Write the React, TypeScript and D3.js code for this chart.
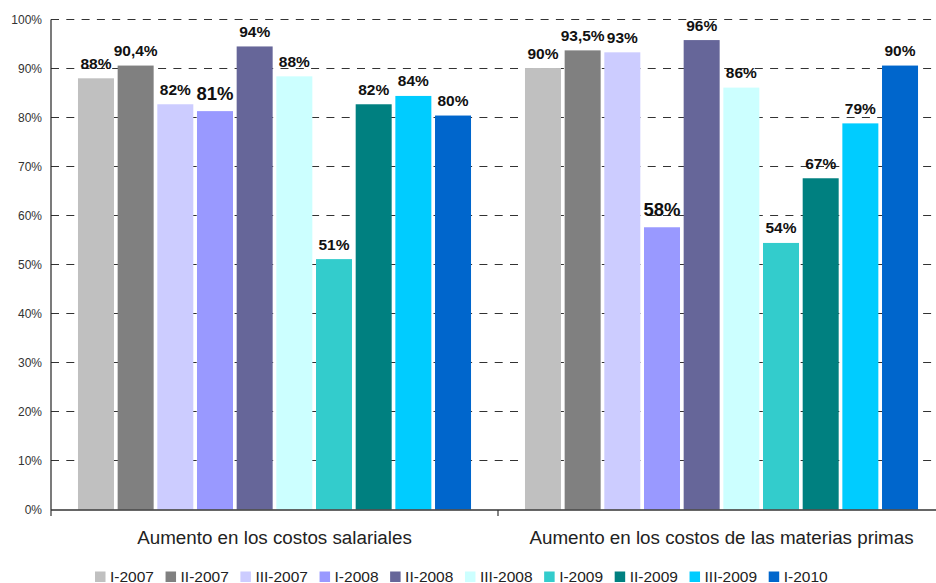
import React from "react";
import * as d3 from "d3";

const categories = ["Aumento en los costos salariales", "Aumento en los costos de las materias primas"];
const seriesNames = ["I-2007", "II-2007", "III-2007", "I-2008", "II-2008", "III-2008", "I-2009", "II-2009", "III-2009", "I-2010"];
const seriesColors = ["#C0C0C0", "#808080", "#CCCCFF", "#9999FF", "#666699", "#CCFFFF", "#33CCCC", "#008080", "#00CCFF", "#0066CC"];
// values per series: [salariales, materias primas]
const salariales = [88.0, 90.6, 82.7, 81.3, 94.5, 88.4, 51.1, 82.7, 84.4, 80.4];
const materias = [90.1, 93.7, 93.3, 57.6, 95.8, 86.1, 54.4, 67.6, 78.8, 90.6];
const salarialesLabels = ["88%", "90,4%", "82%", "81%", "94%", "88%", "51%", "82%", "84%", "80%"];
const materiasLabels = ["90%", "93,5%", "93%", "58%", "96%", "86%", "54%", "67%", "79%", "90%"];
const emphasized = ["0-3", "1-3"];
const yTicks = [0, 10, 20, 30, 40, 50, 60, 70, 80, 90, 100];

const W = 936;
const H = 583;
const FONT = "'Liberation Sans', Arial, sans-serif";

function textWidth(s: string, size: number) {
  const c = document.createElement("canvas").getContext("2d");
  if (!c) return s.length * size * 0.55;
  c.font = `${size}px 'Liberation Sans', Arial`;
  return c.measureText(s).width;
}

export default function App() {
  const x0 = d3.scaleBand<string>().domain(categories).range([51, 945]).paddingInner(0).paddingOuter(0);
  const x1 = d3
    .scaleBand<string>()
    .domain(seriesNames)
    .range([0, x0.bandwidth()])
    .paddingInner(0.0925)
    .paddingOuter(0.68);
  const y = d3.scaleLinear().domain([0, 100]).range([509.5, 19.5]);

  const groups = [salariales, materias];
  const labels = [salarialesLabels, materiasLabels];

  // legend layout
  const legendFont = 15.5;
  let lx = 95;
  const legendItems = seriesNames.map((name, i) => {
    const item = { name, color: seriesColors[i], x: lx };
    lx += 15 + textWidth(name, legendFont) + 11.6;
    return item;
  });

  const bandEdges = [x0(categories[0])!, x0(categories[1])!, x0(categories[1])! + x0.bandwidth()];

  return (
    <div style={{ position: "absolute", left: 0, top: 0, width: W, height: H, background: "#fff" }}>
      <svg width={W} height={H} style={{ display: "block", fontFamily: FONT }}>
        {/* gridlines */}
        {yTicks
          .filter((t) => t > 0)
          .map((t) => (
            <line
              key={"g" + t}
              x1={51}
              x2={945}
              y1={y(t)}
              y2={y(t)}
              stroke="#333"
              strokeWidth={1}
              strokeDasharray="8 7.3"
            />
          ))}
        {/* y tick labels */}
        {yTicks.map((t) => (
          <text key={"t" + t} x={42} y={y(t)} dy="0.36em" textAnchor="end" fontSize={12} fill="#333">
            {t + "%"}
          </text>
        ))}
        {/* bars */}
        {categories.map((cat, ci) =>
          seriesNames.map((s, si) => {
            const v = groups[ci][si];
            const bx = x0(cat)! + x1(s)!;
            return (
              <rect
                key={cat + s}
                x={bx}
                y={y(v)}
                width={x1.bandwidth()}
                height={y(0) - y(v)}
                fill={seriesColors[si]}
              />
            );
          })
        )}
        {/* value labels */}
        {categories.map((cat, ci) =>
          seriesNames.map((s, si) => {
            const v = groups[ci][si];
            const big = emphasized.includes(ci + "-" + si);
            const cx = x0(cat)! + x1(s)! + x1.bandwidth() / 2;
            return (
              <text
                key={"l" + cat + s}
                x={cx}
                y={y(v) - (big ? 11 : 9.5)}
                textAnchor="middle"
                fontSize={big ? 18.5 : 15.5}
                fontWeight="bold"
                fill="#111"
              >
                {labels[ci][si]}
              </text>
            );
          })
        )}
        {/* axes */}
        <line x1={51} x2={51} y1={19.5} y2={510} stroke="#222" strokeWidth={1.2} />
        <line x1={51} x2={945} y1={510} y2={510} stroke="#333" strokeWidth={1.6} />
        {bandEdges.map((e, i) => (
          <line key={"bt" + i} x1={e} x2={e} y1={510} y2={516} stroke="#333" strokeWidth={1.2} />
        ))}
        {categories.map((cat) => (
          <text
            key={"c" + cat}
            x={x0(cat)! + x0.bandwidth() / 2}
            y={544}
            textAnchor="middle"
            fontSize={18.8}
            fill="#222"
          >
            {cat}
          </text>
        ))}
        {/* legend */}
        {legendItems.map((it) => (
          <g key={"lg" + it.name}>
            <rect x={it.x} y={571.5} width={10.5} height={10.5} fill={it.color} />
            <text x={it.x + 15} y={581.5} fontSize={legendFont} fill="#222">
              {it.name}
            </text>
          </g>
        ))}
      </svg>
    </div>
  );
}
